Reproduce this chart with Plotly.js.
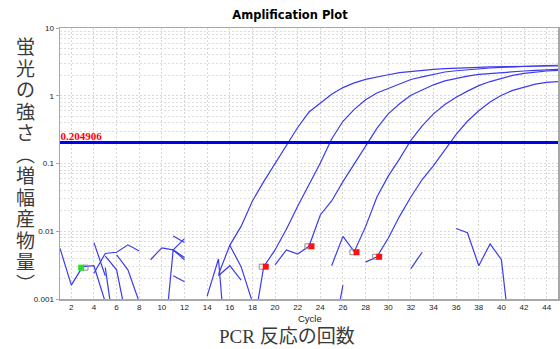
<!DOCTYPE html>
<html><head><meta charset="utf-8">
<script src="https://cdn.plot.ly/plotly-3.0.1.min.js"></script>
<style>html,body{margin:0;padding:0;background:#fff}#chart{width:560px;height:349px}</style>
</head><body><div id="chart"></div>
<script>
const cycles = [1,2,3,4,5,6,7,8,9,10,11,12,13,14,15,16,17,18,19,20,21,22,23,24,25,26,27,28,29,30,31,32,33,34,35,36,37,38,39,40,41,42,43,44,45];

const well1 = [0.0056,0.0016,0.003,0.0031,0.0009,null,null,null,0.0038,0.0057,
  0.0053,0.0038,null,null,0.0023,0.0062,0.0118,0.028,0.054,0.10,
  0.18,0.34,0.575,0.79,1.05,1.32,1.55,1.74,1.9,2.04,
  2.19,2.29,2.37,2.45,2.51,2.57,2.6,2.63,2.66,2.69,
  2.69,2.72,2.72,2.75,2.75];
const well2 = [null,null,null,0.0024,0.0047,0.0049,0.0063,0.0051,null,0.0001,
  0.0053,0.0041,null,0.0011,0.0039,0.00004,null,0.0003,0.003,0.0053,
  0.0107,0.0234,0.048,0.102,0.23,0.42,0.63,0.87,1.1,1.29,
  1.51,1.74,1.9,2.09,2.24,2.34,2.43,2.51,2.57,2.63,
  2.69,2.72,2.75,2.79,2.82];
const well3 = [null,null,null,0.0068,0.0022,null,null,null,null,null,
  0.0085,0.0068,null,null,0.0022,0.0031,0.0019,null,null,0.0032,
  0.0053,0.0046,0.006,0.0174,0.028,0.054,0.10,0.186,0.33,0.54,
  0.76,1.02,1.23,1.45,1.66,1.82,1.95,2.07,2.14,2.21,
  2.26,2.32,2.37,2.43,2.45];
const well4 = [null,null,null,null,0.0043,0.0027,0.0004,null,null,null,
  0.0022,0.0018,null,null,null,0.0062,0.003,0.0009,null,null,
  null,null,null,null,0.0031,0.0084,0.005,0.0117,0.032,0.065,
  0.117,0.22,0.36,0.54,0.74,0.95,1.17,1.41,1.62,1.82,
  2.0,2.14,2.24,2.32,2.37];
const well5 = [null,null,null,null,0.0029,0.0002,null,null,null,null,
  0.0053,0.0078,null,null,null,null,null,null,null,null,
  null,null,null,null,0.0002,0.0016,null,0.0035,0.0042,0.0079,
  0.0166,0.032,0.058,0.093,0.158,0.27,0.42,0.60,0.81,1.02,
  1.2,1.35,1.48,1.58,1.62];
const well6 = [null,null,null,null,null,0.0045,0.0027,0.0009,null,null,
  null,null,null,null,null,null,null,null,null,null,
  null,null,null,null,null,null,null,null,null,null,
  null,0.0028,0.0049,null,null,0.011,0.0095,0.0031,0.0065,0.0038,
  0.00013,null,null,null,null];

const threshold = 0.204906;
const greenX = [2.87], greenY = [0.0029];
const redX = [19.18, 23.22, 27.2, 29.2], redY = [0.003, 0.006, 0.0049, 0.0042];
const grayX = [3.25, 18.82, 22.86, 26.84, 28.84], grayY = [0.0029, 0.003, 0.006, 0.0049, 0.0042];

const xTickVals = [2,4,6,8,10,12,14,16,18,20,22,24,26,28,30,32,34,36,38,40,42,44];
const yTickVals = [0.001, 0.01, 0.1, 1, 10];
const yTickText = ['0.001', '0.01', '0.1', '1', '10'];

const titleText = 'Amplification Plot';
const xTitleSmall = 'Cycle';
const xTitleJa = 'PCR 反応の回数';
const yTitleChars = ['蛍','光','の','強','さ','︵','増','幅','産','物','量','︶'];

const W = 560, H = 349, ML = 60, MR = 2, MT = 28, MB = 50;
const PW = W - ML - MR, PH = H - MT - MB;
const px = v => (v - ML) / PW;
const py = v => (H - MB - v) / PH;

const YT_SIZE = 19, YT_PITCH = 21.5;

const traces = [];
[well1, well2, well3, well4, well5, well6].forEach(w => {
  traces.push({x: cycles, y: w, type: 'scatter', mode: 'lines', connectgaps: false,
    line: {color: '#3c3cec', width: 1.2}, hoverinfo: 'skip', showlegend: false});
});
traces.push({x: [cycles[0], cycles[cycles.length - 1]], y: [threshold, threshold], type: 'scatter', mode: 'lines',
  line: {color: '#0000f0', width: 3}, hoverinfo: 'skip', showlegend: false});
traces.push({x: [1.05], y: [threshold], type: 'scatter', mode: 'text', text: ['<b>' + threshold + '</b>'],
  textposition: 'top right', textfont: {family: 'Liberation Serif', size: 11, color: '#ff0000'},
  hoverinfo: 'skip', showlegend: false, cliponaxis: false});
traces.push({x: grayX, y: grayY, type: 'scatter', mode: 'markers',
  marker: {symbol: 'square-open', size: 5, color: '#909090', line: {width: 1, color: '#909090'}}, hoverinfo: 'skip', showlegend: false});
traces.push({x: greenX, y: greenY, type: 'scatter', mode: 'markers',
  marker: {symbol: 'square', size: 6, color: '#22e022'}, hoverinfo: 'skip', showlegend: false});
traces.push({x: redX, y: redY, type: 'scatter', mode: 'markers',
  marker: {symbol: 'square', size: 6, color: '#ff1010'}, hoverinfo: 'skip', showlegend: false});

const annotations = [
  {text: xTitleSmall, xref: 'paper', yref: 'paper', x: px(310), y: py(319), xanchor: 'center', yanchor: 'middle',
   showarrow: false, font: {family: 'Liberation Sans', size: 9.5, color: '#222'}},
  {text: xTitleJa, xref: 'paper', yref: 'paper', x: px(287), y: py(337), xanchor: 'center', yanchor: 'middle',
   showarrow: false, font: {family: 'Liberation Serif, Noto Sans CJK JP', size: 19, color: '#3a3a3a'}},
  {text: yTitleChars.join('<br>'), xref: 'paper', yref: 'paper', x: px(25), y: py(36),
   xanchor: 'center', yanchor: 'top', showarrow: false, borderpad: 0,
   font: {family: 'Liberation Serif, Noto Sans CJK JP', size: YT_SIZE, color: '#3a3a3a'}}
];

const layout = {
  width: W, height: H,
  margin: {l: ML, r: MR, t: MT, b: MB, pad: 0},
  paper_bgcolor: '#fff', plot_bgcolor: '#fff',
  title: {text: '<b>' + titleText + '</b>', font: {family: 'DejaVu Sans', size: 11.5, color: '#000'},
    x: 290 / W, xref: 'container', xanchor: 'center', y: 1 - 15 / H, yref: 'container', yanchor: 'middle'},
  xaxis: {range: [1, 45], tickmode: 'array', tickvals: xTickVals, showgrid: true,
    gridcolor: '#d8d8d8', griddash: '2px,2px', gridwidth: 1,
    showline: true, linecolor: '#a8a8a8', linewidth: 1.5, mirror: true,
    ticks: '', tickfont: {family: 'Liberation Sans', size: 8, color: '#222'}, zeroline: false},
  yaxis: {type: 'log', range: [-3, 1], tickmode: 'array', tickvals: yTickVals, ticktext: yTickText,
    showgrid: true, gridcolor: '#d8d8d8', griddash: '2px,2px', gridwidth: 1,
    minor: {showgrid: true, dtick: 'D1', gridcolor: '#dedede', griddash: '2px,2px', ticks: ''},
    showline: true, linecolor: '#a8a8a8', linewidth: 1.5, mirror: true,
    ticks: 'outside', ticklen: 3, tickcolor: '#a8a8a8',
    tickfont: {family: 'Liberation Sans', size: 8, color: '#222'}, zeroline: false},
  annotations: annotations,
  showlegend: false
};

Plotly.newPlot('chart', traces, layout, {displayModeBar: false, staticPlot: true}).then(gd => {
  // tighten the vertical title's line pitch to match the reference's vertical writing
  const ann = gd.querySelectorAll('.annotation-text');
  const vt = ann[ann.length - 1];
  if (vt) {
    const k = YT_PITCH / (1.3 * YT_SIZE);
    vt.querySelectorAll('tspan.line').forEach(t => {
      const d = t.getAttribute('dy');
      if (d && d.indexOf('em') > 0) t.setAttribute('dy', (parseFloat(d) * k) + 'em');
    });
  }
});
</script>
</body></html>
